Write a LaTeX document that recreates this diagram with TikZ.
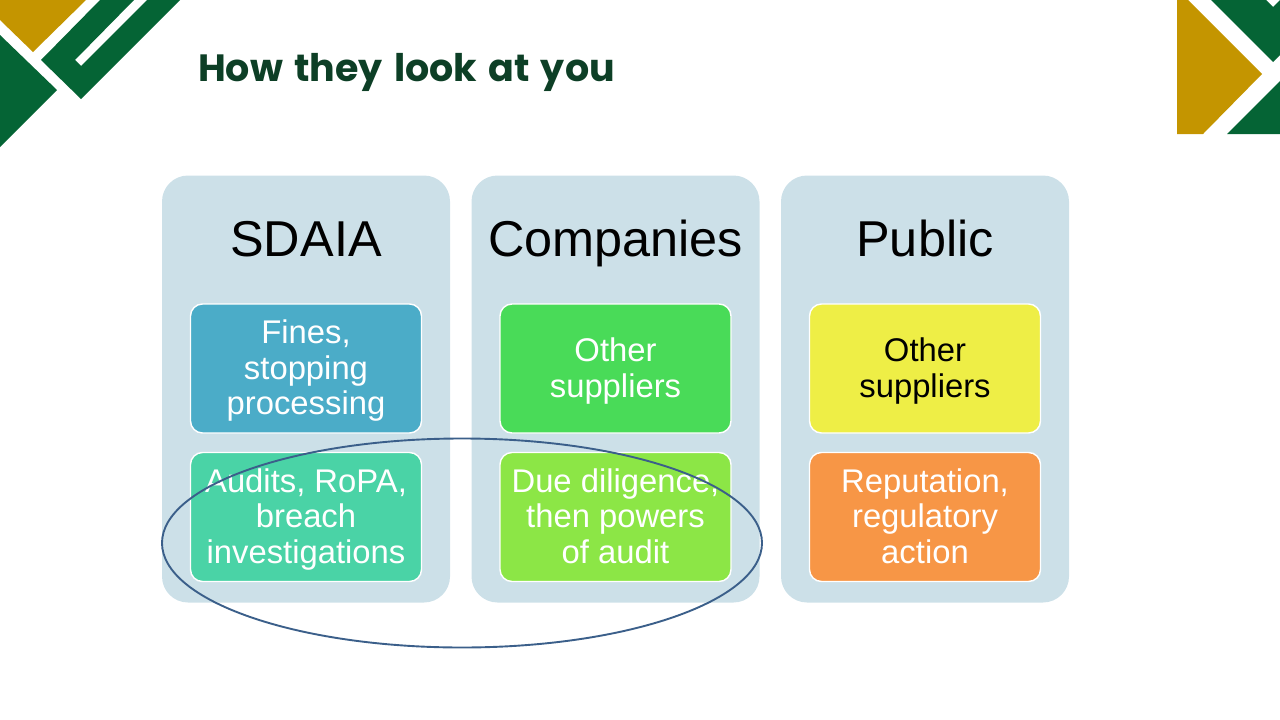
\documentclass[tikz,border=0pt]{standalone}
\usepackage{fontspec}
\setmainfont{Liberation Sans}
\newfontfamily\titlefont[WordSpace=1.4]{Poppins}
\definecolor{leafgreen}{HTML}{056435}
\definecolor{goldtone}{HTML}{C49500}
\definecolor{titlegreen}{HTML}{0D3F26}
\definecolor{panelblue}{HTML}{CCE0E8}
\definecolor{ringblue}{HTML}{3B5F8A}
\definecolor{cardblue}{HTML}{4BACC8}
\definecolor{cardteal}{HTML}{4AD3A6}
\definecolor{cardgreen}{HTML}{49DB58}
\definecolor{cardlime}{HTML}{8CE646}
\definecolor{cardyellow}{HTML}{EEEE46}
\definecolor{cardorange}{HTML}{F79646}
\tikzset{
  panel/.style={fill=panelblue, rounded corners=26pt, minimum width=288pt, minimum height=427pt},
  heading/.style={font=\fontsize{50.4}{56}\selectfont, text=black, inner sep=0pt, anchor=base},
  card/.style={draw=white, line width=1.4pt, rounded corners=12pt, minimum width=231pt, minimum height=129pt,
    align=center, text=white, inner sep=0pt, font=\fontsize{32.8}{35.6}\selectfont, text depth=0pt},
  cardtwo/.style={card, text height=57.2pt},
  cardthree/.style={card, text height=92.8pt},
}
\begin{document}
\begin{tikzpicture}[x=1pt,y=-1pt]
\useasboundingbox (0,0) rectangle (1280,720);
% corner marks
\fill[goldtone] (0,0) -- (86,0) -- (33,52) -- (0,20) -- cycle;
\fill[leafgreen] (0,35) -- (57,90) -- (0,147) -- cycle;
\fill[leafgreen] (100,0) -- (134,0) -- (75,60) -- (81,66) -- (147,0) -- (180,0) -- (81,99) -- (41,60) -- cycle;
\fill[goldtone] (1177,0) -- (1188,0) -- (1262,74) -- (1203,134) -- (1177,134) -- cycle;
\fill[leafgreen] (1211,0) -- (1266,0) -- (1273,7) -- (1280,0) -- (1280,55) -- (1273,62) -- cycle;
\fill[leafgreen] (1280,81) -- (1280,134) -- (1227,134) -- cycle;
% title
\node[anchor=base west, inner sep=0pt, text=titlegreen] (title) at (198,81) {\titlefont\bfseries\fontsize{38}{44}\selectfont How they look at you};
% panels
\node[panel] (sdaia) at (306,389) {};
\node[panel] (companies) at (615.5,389) {};
\node[panel] (public) at (925,389) {};
\node[heading] (sdaiahead) at (306,256) {SDAIA};
\node[heading] (companieshead) at (615.5,256) {Companies};
\node[heading] (publichead) at (925,256) {Public};
% cards
\node[cardthree, fill=cardblue] (fines) at (306,368.5) {Fines,\\stopping\\processing};
\node[cardthree, fill=cardteal] (audits) at (306,517) {Audits, RoPA,\\breach\\investigations};
\node[cardtwo, fill=cardgreen] (suppliersa) at (615.5,368.5) {Other\\suppliers};
\node[cardthree, fill=cardlime] (diligence) at (615.5,517) {Due diligence,\\then powers\\of audit};
\node[cardtwo, fill=cardyellow, text=black] (suppliersb) at (925,368.5) {Other\\suppliers};
\node[cardthree, fill=cardorange] (reputation) at (925,517) {Reputation,\\regulatory\\action};
% ring
\draw[ringblue, line width=1.9pt] (462,543) ellipse (300 and 104.5);
\end{tikzpicture}
\end{document}
